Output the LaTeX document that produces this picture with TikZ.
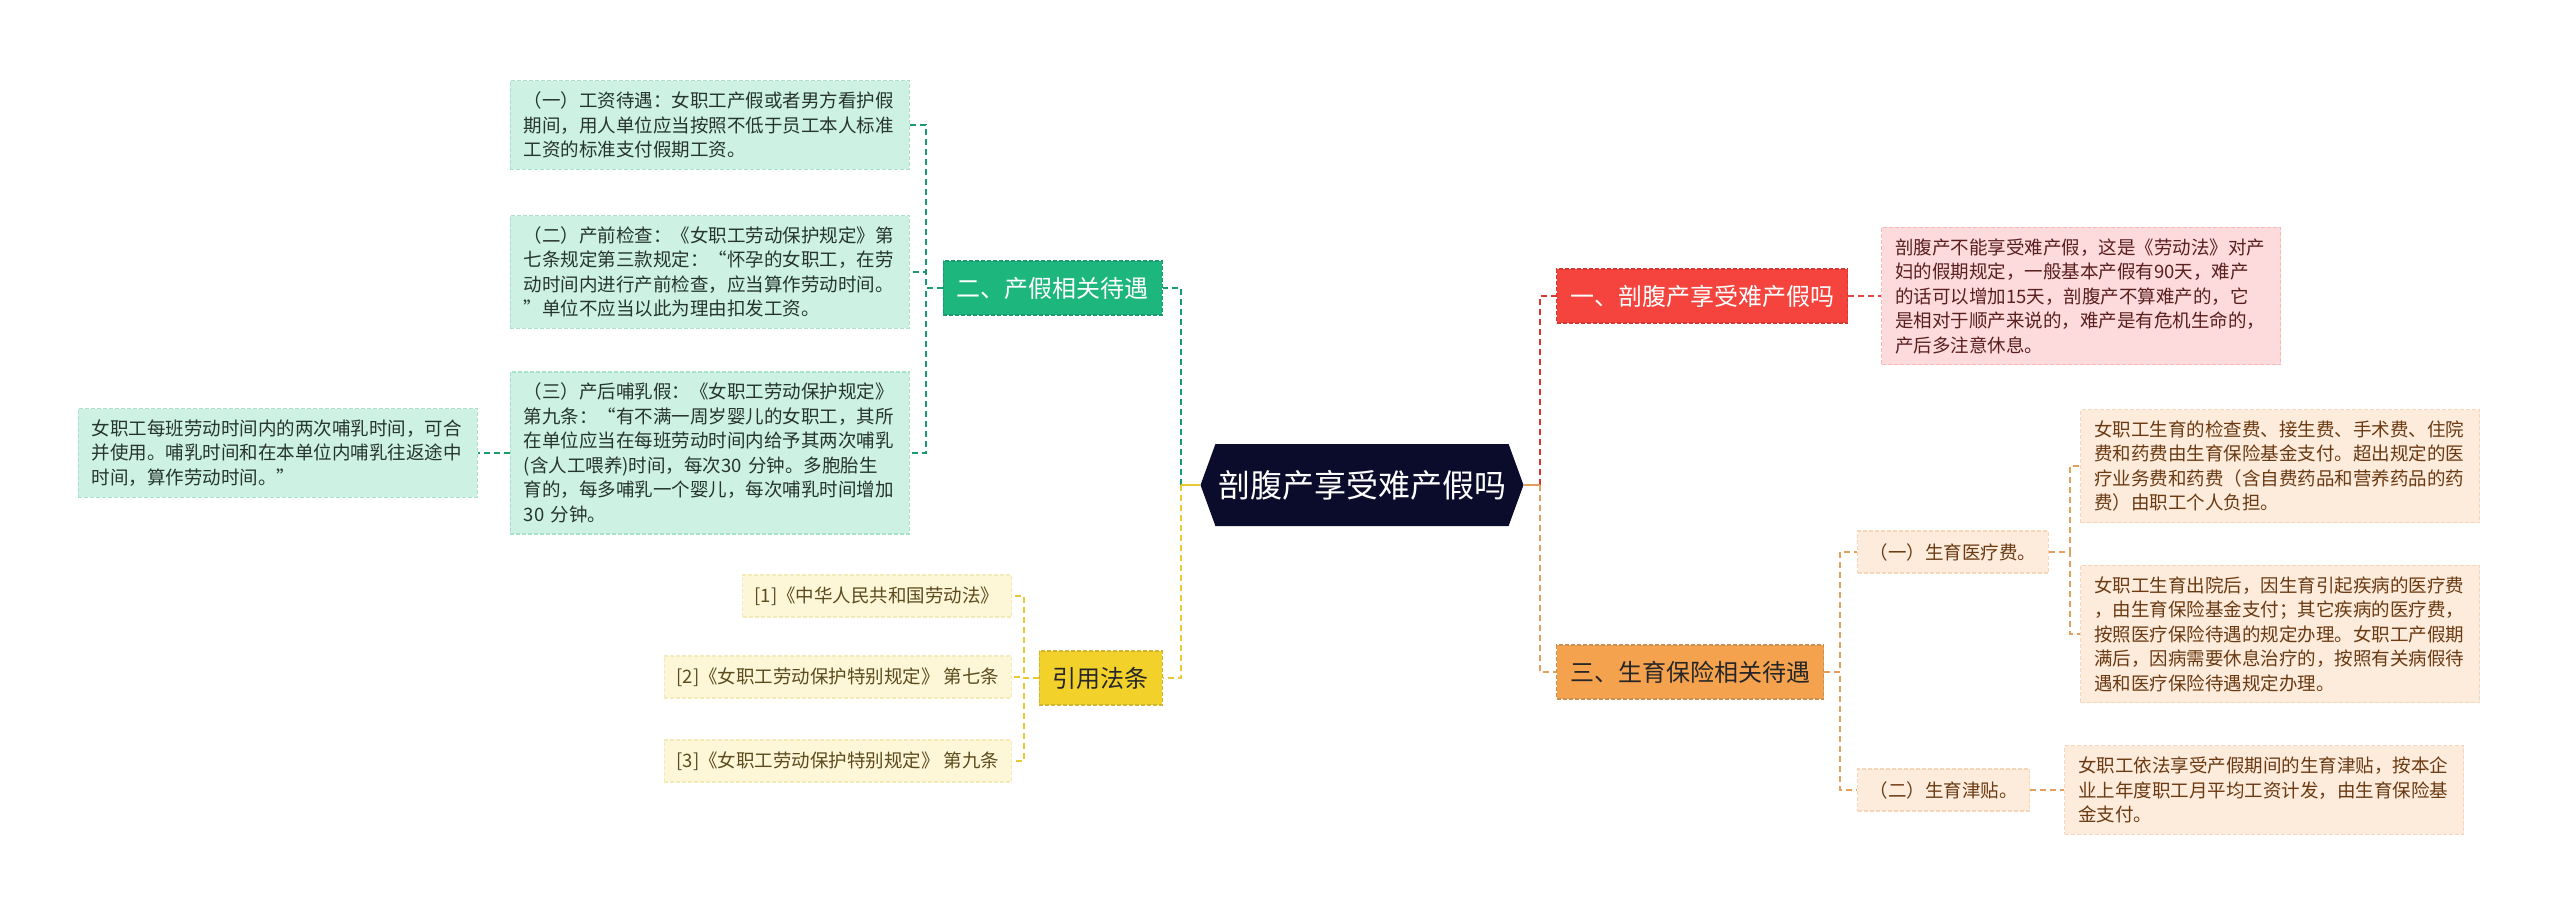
\documentclass[tikz,border=0pt]{standalone}
\usepackage{fontspec}
\setmainfont{Noto Sans CJK SC}
\usepackage{tikz}
\usetikzlibrary{calc,shapes.symbols}
\definecolor{rootbg}{HTML}{0B0B2C}
\definecolor{teal1}{HTML}{1DB77E}
\definecolor{teal2}{HTML}{179C6B}
\definecolor{teallf}{HTML}{CDF1E2}
\definecolor{tealbd}{HTML}{A9E2CB}
\definecolor{tealtx}{HTML}{26352E}
\definecolor{red1}{HTML}{F4443D}
\definecolor{red2}{HTML}{D9362F}
\definecolor{redlf}{HTML}{FDDADB}
\definecolor{redbd}{HTML}{F4B8B8}
\definecolor{redtx}{HTML}{5A1F1F}
\definecolor{ora1}{HTML}{F5A24F}
\definecolor{ora2}{HTML}{E2A05C}
\definecolor{oralf}{HTML}{FDEBDB}
\definecolor{orabd}{HTML}{F6D5B8}
\definecolor{oratx}{HTML}{6A3A12}
\definecolor{yel1}{HTML}{F2D12B}
\definecolor{yel2}{HTML}{E9C833}
\definecolor{yellf}{HTML}{FDF6D7}
\definecolor{yelbd}{HTML}{F4EAB8}
\definecolor{yeltx}{HTML}{5C4B1D}
\newcommand\mmleaf{\fontsize{18.5}{24.5}\selectfont}
\newcommand\mmhead{\fontsize{24}{28}\selectfont}
\newcommand\mmroot{\fontsize{32}{38}\selectfont}
\tikzset{
  topic/.style={signal,signal to=west and east,signal pointer angle=140,fill=rootbg,
    text=white,minimum width=323pt,minimum height=82pt,inner sep=0pt,font=\mmroot},
  head/.style={rectangle,draw,dash pattern=on 4pt off 2pt,line width=1.2pt,
    minimum height=54pt,inner xsep=13.5pt,font=\mmhead},
  leaf/.style={rectangle,draw,dash pattern=on 4pt off 2pt,line width=1.2pt,align=left,
    text width=372pt,inner xsep=13.5pt,inner ysep=11pt,font=\mmleaf},
  tag/.style={rectangle,draw,dash pattern=on 4pt off 2pt,line width=1.2pt,
    minimum height=42pt,inner xsep=12pt,font=\mmleaf},
  tealhead/.style={head,fill=teal1,draw=teal2,text=white},
  redhead/.style={head,fill=red1,draw=red2,text=white},
  orahead/.style={head,fill=ora1,draw=ora2!90!black,text=black!85},
  yelhead/.style={head,fill=yel1,draw=yel2!90!black,text=black!85},
  tealleaf/.style={leaf,fill=teallf,draw=tealbd,text=tealtx},
  redleaf/.style={leaf,fill=redlf,draw=redbd,text=redtx},
  oraleaf/.style={leaf,fill=oralf,draw=orabd,text=oratx},
  oratag/.style={tag,fill=oralf,draw=orabd,text=oratx},
  yeltag/.style={tag,fill=yellf,draw=yelbd,text=yeltx},
  link/.style={dash pattern=on 6pt off 4pt,line width=2pt},
  stub/.style={line width=2.5pt}
}
\begin{document}
\begin{tikzpicture}[x=1pt,y=-1pt]
\useasboundingbox (0,0) rectangle (2560,919);
% centre
\node[topic] (root) at (1362,485) {剖腹产享受难产假吗};
\coordinate (lj) at ($(root.west)+(-19,0)$);
\coordinate (rj) at ($(root.east)+(16,0)$);

% right side
\node[redhead,anchor=west] (b1) at (1556,296) {一、剖腹产享受难产假吗};
\node[redleaf,anchor=west] (d1) at (1881,296) {剖腹产不能享受难产假，这是《劳动法》对产\\妇的假期规定，一般基本产假有90天，难产\\的话可以增加15天，剖腹产不算难产的，它\\是相对于顺产来说的，难产是有危机生命的，\\产后多注意休息。};
\node[orahead,anchor=west] (b3) at (1556,672) {三、生育保险相关待遇};
\node[oratag,anchor=west] (s1) at (1857,552) {（一）生育医疗费。};
\node[oratag,anchor=west] (s2) at (1857,790) {（二）生育津贴。};
\node[oraleaf,anchor=west] (m1) at (2080,466) {女职工生育的检查费、接生费、手术费、住院\\费和药费由生育保险基金支付。超出规定的医\\疗业务费和药费（含自费药品和营养药品的药\\费）由职工个人负担。};
\node[oraleaf,anchor=west] (m2) at (2080,634) {女职工生育出院后，因生育引起疾病的医疗费\\，由生育保险基金支付；其它疾病的医疗费，\\按照医疗保险待遇的规定办理。女职工产假期\\满后，因病需要休息治疗的，按照有关病假待\\遇和医疗保险待遇规定办理。};
\node[oraleaf,anchor=west] (m3) at (2064,790) {女职工依法享受产假期间的生育津贴，按本企\\业上年度职工月平均工资计发，由生育保险基\\金支付。};

% left side
\node[tealhead,anchor=east] (b2) at (1163,288) {二、产假相关待遇};
\node[tealleaf,anchor=east] (t1) at (910,125) {（一）工资待遇：女职工产假或者男方看护假\\期间，用人单位应当按照不低于员工本人标准\\工资的标准支付假期工资。};
\node[tealleaf,anchor=east] (t2) at (910,272) {（二）产前检查：《女职工劳动保护规定》第\\七条规定第三款规定：“怀孕的女职工，在劳\\动时间内进行产前检查，应当算作劳动时间。\\”单位不应当以此为理由扣发工资。};
\node[tealleaf,anchor=east] (t3) at (910,453) {（三）产后哺乳假：《女职工劳动保护规定》\\第九条：“有不满一周岁婴儿的女职工，其所\\在单位应当在每班劳动时间内给予其两次哺乳\\(含人工喂养)时间，每次30 分钟。多胞胎生\\育的，每多哺乳一个婴儿，每次哺乳时间增加\\30 分钟。};
\node[tealleaf,anchor=east] (t4) at (478,453) {女职工每班劳动时间内的两次哺乳时间，可合\\并使用。哺乳时间和在本单位内哺乳往返途中\\时间，算作劳动时间。”};
\node[yelhead,anchor=east] (b4) at (1163,678) {引用法条};
\node[yeltag,anchor=east] (r1) at (1012,596) {[1]《中华人民共和国劳动法》};
\node[yeltag,anchor=east] (r2) at (1012,677) {[2]《女职工劳动保护特别规定》 第七条};
\node[yeltag,anchor=east] (r3) at (1012,761) {[3]《女职工劳动保护特别规定》 第九条};

% connectors
\draw[link,red2] (rj) |- (b1.west);
\draw[link,ora2] (rj) |- (b3.west);
\draw[link,teal2] (lj) |- (b2.east);
\draw[link,yel2] (lj) |- (b4.east);
\draw[stub,ora2] (root.east) -- (rj);
\draw[stub,yel2] (root.west) -- (lj);
\draw[link,red2!90] (b1.east) -- (d1.west);
\foreach \n in {s1,s2}
  \draw[link,ora2] (b3.east) -- +(16,0) |- (\n.west);
\foreach \n in {m1,m2}
  \draw[link,ora2] (s1.east) -- +(21,0) |- (\n.west);
\draw[link,ora2] (s2.east) -- (m3.west);
\foreach \n in {t1,t2,t3}
  \draw[link,teal2] (b2.west) -- +(-17,0) |- (\n.east);
\draw[link,teal2] (t3.west) -- (t4.east);
\foreach \n in {r1,r2,r3}
  \draw[link,yel2] (b4.west) -- +(-15,0) |- (\n.east);
\end{tikzpicture}
\end{document}
